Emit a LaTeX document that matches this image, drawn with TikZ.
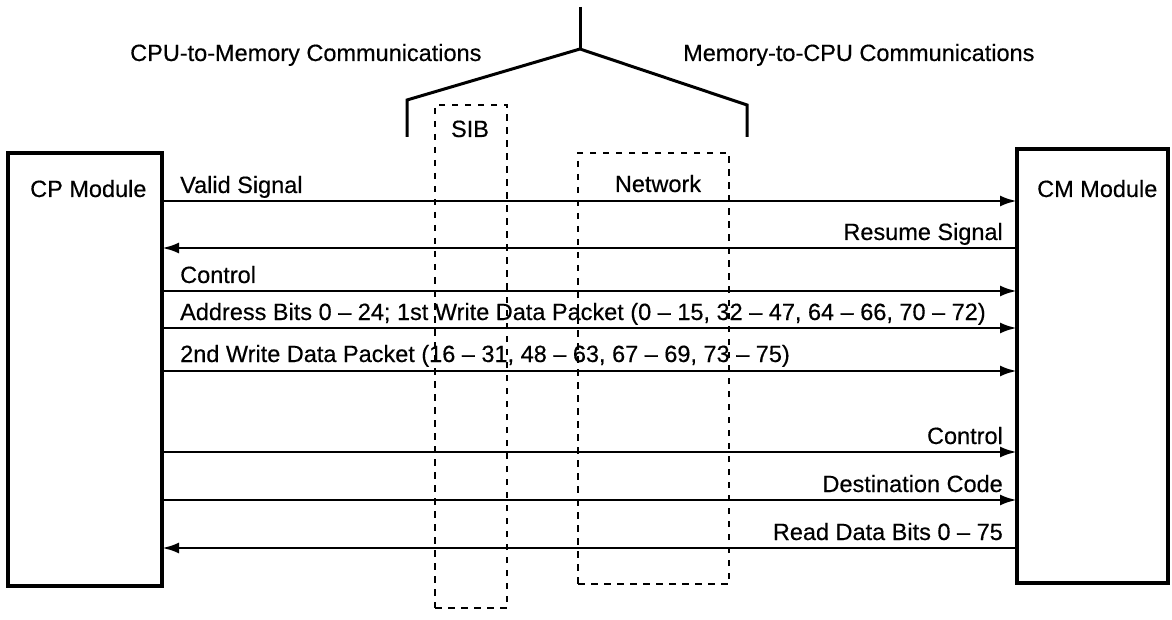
\documentclass[tikz,border=0pt]{standalone}
\usepackage{fontspec}
\setmainfont{Liberation Sans}[FakeBold=0.4]
\usetikzlibrary{arrows.meta}
\begin{document}
\begin{tikzpicture}[x=1pt,y=-1pt,
  module/.style={draw, line width=3.8pt, inner sep=0pt, outer sep=0pt},
  zone/.style={draw, line width=2.8pt, dash pattern=on 6.5pt off 6.5pt, inner sep=0pt},
  txt/.style={inner sep=0pt, font=\fontsize{23.5}{28}\selectfont},
  sig/.style={line width=2.9pt, -{Latex[length=17pt,width=11pt]}},
  brk/.style={line width=3pt}]
\useasboundingbox (0,0) rectangle (1172,620);
% modules
\node[module, minimum width=154pt, minimum height=433pt] (cp) at (85,369.5) {};
\node[module, minimum width=151pt, minimum height=434pt] (cm) at (1092.5,366) {};
% dashed zones
\node[zone, minimum width=72pt, minimum height=503pt] (sib) at (471,356.5) {};
\node[zone, minimum width=151pt, minimum height=431pt] (net) at (653.5,368.5) {};
% texts
\node[txt, anchor=base west] (cpl) at (30,197) {CP Module};
\node[txt, anchor=base west] (cml) at (1037,197) {CM Module};
\node[txt, anchor=base] (sibl) at (470,137) {SIB};
\node[txt, anchor=base] (netl) at (658,192) {Network};
\node[txt, anchor=base west] (h1) at (130,61) {CPU-to-Memory Communications};
\node[txt, anchor=base west] (h2) at (683,61) {Memory-to-CPU Communications};
% bracket
\coordinate (top) at (580,7);
\coordinate (apex) at (580,49);
\coordinate (bl) at (407,100);
\coordinate (blb) at (407,137);
\coordinate (br) at (747,105);
\coordinate (brb) at (747,137);
\draw[brk] (top) -- (apex);
\draw[brk, line join=miter] (blb) -- (bl) -- (apex) -- (br) -- (brb);
% signal rows
\coordinate (r1) at (0,201);
\coordinate (r2) at (0,248);
\coordinate (r3) at (0,291);
\coordinate (r4) at (0,328);
\coordinate (r5) at (0,371);
\coordinate (r6) at (0,452);
\coordinate (r7) at (0,500);
\coordinate (r8) at (0,548);
\draw[sig] (cp.east |- r1) -- (cm.west |- r1);
\draw[sig] (cm.west |- r2) -- (cp.east |- r2);
\draw[sig] (cp.east |- r3) -- (cm.west |- r3);
\draw[sig] (cp.east |- r4) -- (cm.west |- r4);
\draw[sig] (cp.east |- r5) -- (cm.west |- r5);
\draw[sig] (cp.east |- r6) -- (cm.west |- r6);
\draw[sig] (cp.east |- r7) -- (cm.west |- r7);
\draw[sig] (cm.west |- r8) -- (cp.east |- r8);
% signal labels
\node[txt, anchor=base west] (l1) at (180,193) {Valid Signal};
\node[txt, anchor=base east] (l2) at (1003,240) {Resume Signal};
\node[txt, anchor=base west] (l3) at (180,283) {Control};
\node[txt, anchor=base west] (l4) at (180,320) {Address Bits 0 \textendash{} 24; 1st Write Data Packet (0 \textendash{} 15, 32 \textendash{} 47, 64 \textendash{} 66, 70 \textendash{} 72)};
\node[txt, anchor=base west] (l5) at (180,362) {2nd Write Data Packet (16 \textendash{} 31, 48 \textendash{} 63, 67 \textendash{} 69, 73 \textendash{} 75)};
\node[txt, anchor=base east] (l6) at (1003,444) {Control};
\node[txt, anchor=base east] (l7) at (1003,492) {Destination Code};
\node[txt, anchor=base east] (l8) at (1003,540) {Read Data Bits 0 \textendash{} 75};
\end{tikzpicture}
\end{document}
